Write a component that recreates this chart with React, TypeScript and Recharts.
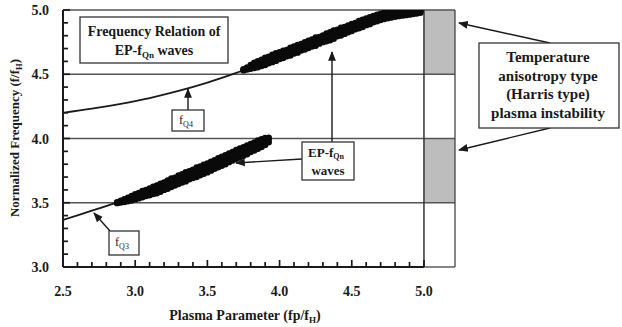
import React from "react";
import {
  ComposedChart,
  Scatter,
  Line,
  XAxis,
  YAxis,
  ReferenceLine,
  ReferenceArea,
} from "recharts";

// tick positions (labels only on the 0.5 steps)
const xTicks = [
  2.5, 2.6, 2.7, 2.8, 2.9, 3.0, 3.1, 3.2, 3.3, 3.4, 3.5, 3.6, 3.7, 3.8, 3.9,
  4.0, 4.1, 4.2, 4.3, 4.4, 4.5, 4.6, 4.7, 4.8, 4.9, 5.0,
];
const yTicks = [
  3.0, 3.1, 3.2, 3.3, 3.4, 3.5, 3.6, 3.7, 3.8, 3.9, 4.0, 4.1, 4.2, 4.3, 4.4,
  4.5, 4.6, 4.7, 4.8, 4.9, 5.0,
];
const gridLevels = [3.5, 4.0, 4.5, 5.0];

// fQ4 and fQ3 model curves
const fq4X = [2.5, 2.7, 2.9, 3.1, 3.3, 3.5, 3.7, 3.85];
const fq4Y = [4.2, 4.232, 4.27, 4.315, 4.37, 4.435, 4.51, 4.575];
const fq3X = [2.5, 2.7, 2.9, 3.0];
const fq3Y = [3.366, 3.438, 3.51, 3.548];

// upper EP-fQn band
const upperX = [
  3.75, 3.775, 3.8, 3.825, 3.85, 3.875, 3.9, 3.925, 3.95, 3.975, 4.0, 4.025,
  4.05, 4.075, 4.1, 4.125, 4.15, 4.175, 4.2, 4.225, 4.25, 4.275, 4.3, 4.325,
  4.35, 4.375, 4.4, 4.425, 4.45, 4.475, 4.5, 4.525, 4.55, 4.575, 4.6, 4.625,
  4.65, 4.675, 4.7, 4.725, 4.75, 4.775, 4.8, 4.825, 4.85, 4.875, 4.9, 4.925,
  4.95, 4.975,
];
const upperHi = [
  4.54, 4.553, 4.572, 4.59, 4.602, 4.614, 4.628, 4.636, 4.652, 4.664, 4.672,
  4.684, 4.69, 4.706, 4.716, 4.728, 4.736, 4.75, 4.762, 4.77, 4.786, 4.79,
  4.802, 4.818, 4.828, 4.84, 4.846, 4.862, 4.868, 4.88, 4.892, 4.9, 4.914,
  4.924, 4.934, 4.944, 4.954, 4.964, 4.972, 4.98, 4.986, 4.99, 4.994, 4.996,
  4.998, 5.0, 5.0, 5.0, 5.0, 5.0,
];
const upperMid = [
  4.534, 4.545, 4.556, 4.567, 4.578, 4.589, 4.6, 4.611, 4.622, 4.633, 4.644,
  4.655, 4.666, 4.677, 4.688, 4.699, 4.71, 4.721, 4.732, 4.743, 4.754, 4.765,
  4.776, 4.787, 4.798, 4.809, 4.82, 4.831, 4.842, 4.853, 4.864, 4.875, 4.886,
  4.897, 4.908, 4.919, 4.93, 4.94, 4.95, 4.957, 4.963, 4.968, 4.972, 4.976,
  4.979, 4.982, 4.985, 4.987, 4.989, 4.99,
];
const upperLo = [
  4.53, 4.536, 4.542, 4.548, 4.554, 4.564, 4.572, 4.586, 4.594, 4.604, 4.618,
  4.626, 4.64, 4.646, 4.662, 4.668, 4.684, 4.692, 4.704, 4.716, 4.722, 4.738,
  4.75, 4.756, 4.764, 4.776, 4.796, 4.802, 4.814, 4.826, 4.836, 4.85, 4.858,
  4.868, 4.882, 4.89, 4.904, 4.912, 4.922, 4.93, 4.936, 4.942, 4.948, 4.952,
  4.956, 4.96, 4.964, 4.968, 4.972, 4.978,
];

// lower EP-fQn band
const lowerX = [
  2.875, 2.9, 2.925, 2.95, 2.975, 3.0, 3.025, 3.05, 3.075, 3.1, 3.125, 3.15,
  3.175, 3.2, 3.225, 3.25, 3.275, 3.3, 3.325, 3.35, 3.375, 3.4, 3.425, 3.45,
  3.475, 3.5, 3.525, 3.55, 3.575, 3.6, 3.625, 3.65, 3.675, 3.7, 3.725, 3.75,
  3.775, 3.8, 3.825, 3.85, 3.875, 3.9, 3.925,
];
const lowerHi = [
  3.504, 3.516, 3.528, 3.54, 3.552, 3.566, 3.576, 3.592, 3.6, 3.612, 3.624,
  3.634, 3.648, 3.658, 3.674, 3.69, 3.694, 3.712, 3.722, 3.738, 3.746, 3.758,
  3.774, 3.782, 3.796, 3.806, 3.82, 3.832, 3.846, 3.858, 3.87, 3.884, 3.896,
  3.91, 3.922, 3.932, 3.946, 3.958, 3.97, 3.984, 3.994, 4.004, 4.006,
];
const lowerMid = [
  3.5, 3.509, 3.518, 3.527, 3.537, 3.548, 3.557, 3.567, 3.577, 3.586, 3.596,
  3.605, 3.617, 3.63, 3.642, 3.655, 3.667, 3.68, 3.692, 3.704, 3.716, 3.728,
  3.74, 3.752, 3.764, 3.775, 3.788, 3.801, 3.814, 3.827, 3.84, 3.854, 3.867,
  3.88, 3.893, 3.906, 3.919, 3.932, 3.945, 3.958, 3.971, 3.985, 3.995,
];
const lowerLo = [
  3.497, 3.501, 3.506, 3.511, 3.518, 3.526, 3.534, 3.542, 3.552, 3.558, 3.568,
  3.574, 3.586, 3.6, 3.608, 3.622, 3.634, 3.646, 3.658, 3.666, 3.682, 3.692,
  3.7, 3.714, 3.726, 3.736, 3.75, 3.764, 3.776, 3.788, 3.8, 3.816, 3.828,
  3.842, 3.852, 3.866, 3.878, 3.894, 3.906, 3.92, 3.934, 3.95, 3.97,
];

const X_MIN = 2.5;
const X_MAX = 5.215; // extra column right of 5.0 for the instability bars
const Y_MIN = 3.0;

const toPoints = (xs: number[], ys: number[]) =>
  xs.map((x, i) => ({ x, y: ys[i] }));

const bandRows = [
  toPoints(upperX, upperHi),
  toPoints(upperX, upperMid),
  toPoints(upperX, upperLo),
  toPoints(lowerX, lowerHi),
  toPoints(lowerX, lowerMid),
  toPoints(lowerX, lowerLo),
];
const fq4 = toPoints(fq4X, fq4Y);
const fq3 = toPoints(fq3X, fq3Y);

const FONT = "'Liberation Serif', 'Times New Roman', serif";
const INK = "#1a1a1a";

const isMajor = (v: number) => Math.abs(v * 2 - Math.round(v * 2)) < 1e-6;

// inward ticks: tickSize/tickMargin are 0, so x/y here sit on the axis line
function XTick(props: any) {
  const { x, y, payload } = props;
  const v = payload.value as number;
  const major = isMajor(v);
  return (
    <g>
      <line x1={x} x2={x} y1={y} y2={y - (major ? 7 : 5)} stroke={INK} strokeWidth={1.7} />
      {major && (
        <text x={x} y={y + 29} textAnchor="middle" fontFamily={FONT} fontWeight="bold" fontSize={14} fill={INK}>
          {v.toFixed(1)}
        </text>
      )}
    </g>
  );
}

function YTick(props: any) {
  const { x, y, payload } = props;
  const v = payload.value as number;
  const major = isMajor(v);
  return (
    <g>
      <line x1={x} x2={x + (major ? 7 : 5)} y1={y} y2={y} stroke={INK} strokeWidth={1.7} />
      {major && (
        <text x={x - 14} y={y + 5} textAnchor="end" fontFamily={FONT} fontWeight="bold" fontSize={14} fill={INK}>
          {v.toFixed(1)}
        </text>
      )}
    </g>
  );
}

const dot = (p: any) => <circle cx={p.cx} cy={p.cy} r={3.2} fill="#0a0a0a" />;

function Annotations() {
  const t = { fontFamily: FONT, fontWeight: "bold" as const, fill: INK };
  const box = { fill: "#fff", stroke: "#333", strokeWidth: 1.3 };
  const arrow = { stroke: INK, strokeWidth: 1.4, markerEnd: "url(#head)" };
  return (
    <svg
      width={622}
      height={327}
      style={{ position: "absolute", left: 0, top: 0, pointerEvents: "none" }}
    >
      <defs>
        <marker id="head" viewBox="0 0 10 10" refX="9" refY="5" markerWidth="7" markerHeight="7" orient="auto-start-reverse">
          <path d="M0,1 L10,5 L0,9 z" fill={INK} />
        </marker>
      </defs>

      {/* title box */}
      <rect x={80} y={17} width={148} height={46} {...box} />
      <text x={154} y={36} textAnchor="middle" fontSize={14} {...t}>
        Frequency Relation of
      </text>
      <text x={154} y={55} textAnchor="middle" fontSize={14} {...t}>
        EP-f<tspan dy={3} fontSize={9}>Qn</tspan>
        <tspan dy={-3}> waves</tspan>
      </text>

      {/* fQ4 */}
      <line x1={188} y1={110} x2={188} y2={89} {...arrow} />
      <rect x={172} y={110} width={32} height={21} {...box} />
      <text x={186} y={124} textAnchor="middle" fontSize={12} fontFamily={FONT} fill={INK}>
        f<tspan dy={3} fontSize={8}>Q4</tspan>
      </text>

      {/* fQ3 */}
      <line x1={110} y1={231} x2={94} y2={213} {...arrow} />
      <rect x={109} y={231} width={30} height={24} {...box} />
      <text x={122} y={246} textAnchor="middle" fontSize={12} fontFamily={FONT} fill={INK}>
        f<tspan dy={3} fontSize={8}>Q3</tspan>
      </text>

      {/* EP-fQn waves */}
      <line x1={332} y1={142} x2={332} y2={52} {...arrow} />
      <line x1={302} y1={159} x2={236} y2={163} {...arrow} />
      <rect x={302} y={142} width={52} height={38} {...box} />
      <text x={326} y={157} textAnchor="middle" fontSize={13} {...t}>
        EP-f<tspan dy={2} fontSize={8}>Qn</tspan>
      </text>
      <text x={328} y={175} textAnchor="middle" fontSize={13} {...t}>
        waves
      </text>

      {/* instability box */}
      <line x1={550} y1={43} x2={459} y2={23} {...arrow} />
      <line x1={550} y1={128} x2={459} y2={150} {...arrow} />
      <rect x={479} y={43} width={140} height={85} {...box} />
      {["Temperature", "anisotropy type", "(Harris type)", "plasma instability"].map((s, i) => (
        <text key={s} x={548} y={62 + i * 18.5} textAnchor="middle" fontSize={15} {...t}>
          {s}
        </text>
      ))}

      {/* axis titles */}
      <text x={245} y={320} textAnchor="middle" fontSize={14} {...t}>
        Plasma Parameter (fp/f<tspan dy={3} fontSize={9}>H</tspan>
        <tspan dy={-3}>)</tspan>
      </text>
      <text transform="translate(19,138) rotate(-90)" textAnchor="middle" fontSize={13} {...t}>
        Normalized Frequency (f/f<tspan dy={3} fontSize={8.5}>H</tspan>
        <tspan dy={-3}>)</tspan>
      </text>
    </svg>
  );
}

export default function App() {
  return (
    <div style={{ position: "absolute", left: 0, top: 0, width: 622, height: 327, background: "#fff" }}>
      <ComposedChart
        width={622}
        height={327}
        margin={{ top: 10, right: 167, bottom: 30, left: 8 }}
      >
        <XAxis
          type="number"
          dataKey="x"
          domain={[X_MIN, X_MAX]}
          allowDataOverflow
          ticks={xTicks}
          interval={0}
          axisLine={false}
          tickLine={false}
          tickSize={0}
          tickMargin={0}
          height={30}
          tick={<XTick />}
        />
        <YAxis
          type="number"
          dataKey="y"
          domain={[Y_MIN, 5]}
          allowDataOverflow
          ticks={yTicks}
          interval={0}
          width={55}
          axisLine={{ stroke: INK, strokeWidth: 2 }}
          tickLine={false}
          tickSize={0}
          tickMargin={0}
          tick={<YTick />}
        />

        <ReferenceArea x1={5.0} x2={X_MAX} y1={4.5} y2={5.0} fill="#bdbdbd" fillOpacity={1} stroke="none" />
        <ReferenceArea x1={5.0} x2={X_MAX} y1={3.5} y2={4.0} fill="#bdbdbd" fillOpacity={1} stroke="none" />

        {gridLevels.map((g) => (
          <ReferenceLine key={g} y={g} stroke="#555" strokeWidth={1.5} />
        ))}
        <ReferenceLine x={5.0} stroke="#333" strokeWidth={1.5} />
        <ReferenceLine x={X_MAX} stroke="#444" strokeWidth={1.3} />
        <ReferenceLine segment={[{ x: 5.0, y: Y_MIN }, { x: X_MAX, y: Y_MIN }]} stroke="#444" strokeWidth={1.3} />
        <ReferenceLine segment={[{ x: X_MIN, y: Y_MIN }, { x: 5.0, y: Y_MIN }]} stroke={INK} strokeWidth={2.2} />

        <Line data={fq4} dataKey="y" type="monotone" stroke={INK} strokeWidth={1.8} dot={false} isAnimationActive={false} />
        <Line data={fq3} dataKey="y" type="monotone" stroke={INK} strokeWidth={1.8} dot={false} isAnimationActive={false} />
        {bandRows.map((row, i) => (
          <Scatter key={i} data={row} shape={dot} isAnimationActive={false} />
        ))}
      </ComposedChart>
      <Annotations />
    </div>
  );
}
